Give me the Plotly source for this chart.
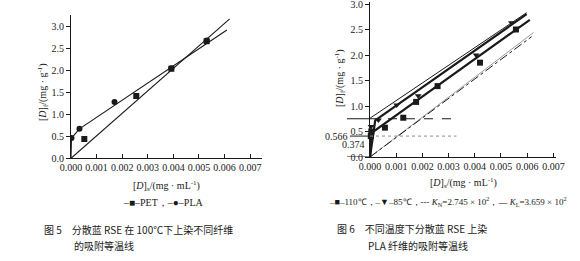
import plotly.graph_objects as go

# ---------------- data (left: Fig.5) ----------------
pet_x = [0.00052, 0.00255, 0.00392, 0.0053]
pet_y = [0.44, 1.42, 2.04, 2.66]
pla_x = [0.00002, 0.00033, 0.0017, 0.00392, 0.0053]
pla_y = [0.46, 0.67, 1.28, 2.05, 2.68]
pet_fit_x = [0.0, 0.0062]
pet_fit_y = [0.0, 3.17]
pla_fit_x = [0.0, 0.00002, 0.00033, 0.00609]
pla_fit_y = [0.0, 0.46, 0.67, 2.92]

# ---------------- data (right: Fig.6) ----------------
t110_x = [0.00003, 0.00005, 0.00057, 0.00127, 0.00176, 0.00258, 0.0042, 0.00557]
t110_y = [0.41, 0.50, 0.575, 0.77, 1.08, 1.39, 1.85, 2.50]
t85_x = [0.00004, 0.00032, 0.00102, 0.00184, 0.00405, 0.0054]
t85_y = [0.60, 0.725, 1.02, 1.20, 2.0, 2.63]
fit110_x = [0.0, 0.00005, 0.0061]
fit110_y = [0.0, 0.47, 2.69]
fit85_x = [0.0, 0.0002, 0.00598]
fit85_y = [0.0, 0.72, 2.80]
kl_thin_x = [0.0, 0.00598]
kl_thin_y = [0.76, 2.83]
gray_x = [0.0, 0.00624]
gray_y = [0.0, 2.44]
kn_x = [0.0, 0.00617]
kn_y = [0.0, 2.36]
hline_levels = [0.75, 0.41, 0.0]
hline_dash_end = 0.0033
side_labels = ["0.566", "0.374"]
side_label_y = [0.40, 0.24]

x_ticks = [0.000, 0.001, 0.002, 0.003, 0.004, 0.005, 0.006, 0.007]
y_ticks = [0.0, 0.5, 1.0, 1.5, 2.0, 2.5, 3.0]

SERIF = "Liberation Serif, Times New Roman, serif"
CJK = "Noto Sans CJK SC"
INK = "#1a1a1a"

fig = go.Figure()

# left chart
fig.add_trace(go.Scatter(x=pet_fit_x, y=pet_fit_y, mode="lines", line=dict(color=INK, width=1.1),
                         xaxis="x", yaxis="y"))
fig.add_trace(go.Scatter(x=pla_fit_x, y=pla_fit_y, mode="lines", line=dict(color=INK, width=1.1),
                         xaxis="x", yaxis="y"))
fig.add_trace(go.Scatter(x=pet_x, y=pet_y, mode="markers", marker=dict(symbol="square", size=6, color=INK),
                         xaxis="x", yaxis="y"))
fig.add_trace(go.Scatter(x=pla_x, y=pla_y, mode="markers", marker=dict(symbol="circle", size=6, color=INK),
                         xaxis="x", yaxis="y"))

# right chart
fig.add_trace(go.Scatter(x=gray_x, y=gray_y, mode="lines", line=dict(color="#9a9a9a", width=1),
                         xaxis="x2", yaxis="y2"))
fig.add_trace(go.Scatter(x=kn_x, y=kn_y, mode="lines", line=dict(color=INK, width=1, dash="dashdot"),
                         xaxis="x2", yaxis="y2"))
fig.add_trace(go.Scatter(x=kl_thin_x, y=kl_thin_y, mode="lines", line=dict(color=INK, width=1),
                         xaxis="x2", yaxis="y2"))
fig.add_trace(go.Scatter(x=fit110_x, y=fit110_y, mode="lines", line=dict(color=INK, width=2.2),
                         xaxis="x2", yaxis="y2"))
fig.add_trace(go.Scatter(x=fit85_x, y=fit85_y, mode="lines", line=dict(color=INK, width=2.2),
                         xaxis="x2", yaxis="y2"))
fig.add_trace(go.Scatter(x=t110_x, y=t110_y, mode="markers", marker=dict(symbol="square", size=6, color=INK),
                         xaxis="x2", yaxis="y2", cliponaxis=False))
fig.add_trace(go.Scatter(x=t85_x, y=t85_y, mode="markers", marker=dict(symbol="triangle-down", size=6, color=INK),
                         xaxis="x2", yaxis="y2", cliponaxis=False))

def px(x):
    return x / 580.0

def py(y):
    return 1 - y / 261.0

# reference lines on the right chart
x2_left_paper = px(370)
outside_left = [px(347), px(350), px(347)]
for lvl, xl in zip(hline_levels, outside_left):
    fig.add_shape(type="line", xref="paper", yref="y2", x0=xl, x1=x2_left_paper, y0=lvl, y1=lvl,
                  line=dict(color=INK, width=1))
fig.add_shape(type="line", xref="x2", yref="y2", x0=0, x1=hline_dash_end, y0=hline_levels[0], y1=hline_levels[0],
              line=dict(color=INK, width=1, dash="dash"))
fig.add_shape(type="line", xref="x2", yref="y2", x0=0, x1=hline_dash_end, y0=hline_levels[1], y1=hline_levels[1],
              line=dict(color="#8a8a8a", width=1, dash="dot"))

axis_common = dict(showline=True, linecolor=INK, linewidth=1.2, showgrid=False, zeroline=False,
                   ticks="outside", ticklen=4, tickcolor=INK, tickwidth=1, ticklabeloverflow="allow",
                   automargin=False,
                   tickfont=dict(family=SERIF, size=10, color=INK))

fig.update_layout(
    width=580, height=261, margin=dict(l=0, r=0, t=0, b=0, pad=0, autoexpand=False),
    paper_bgcolor="white", plot_bgcolor="white", showlegend=False,
    xaxis=dict(domain=[px(71), px(261.7)], range=[0, 0.00745], tickvals=x_ticks, tickformat=".3f",
               anchor="y", **{**axis_common, "ticks": "inside"}),
    yaxis=dict(domain=[py(158.3), py(15)], range=[0, 3.26], tickvals=y_ticks, tickformat=".1f",
               anchor="x", **axis_common),
    xaxis2=dict(domain=[px(370), px(556)], range=[0, 0.0071], tickvals=x_ticks, tickformat=".3f",
                anchor="y2", **{**axis_common, "ticks": "inside"}),
    yaxis2=dict(domain=[py(157), py(1.7)], range=[0, 3.045], tickvals=y_ticks, tickformat=".1f",
                anchor="x2", **axis_common),
)

def text(x, y, s, size=10, family=SERIF, angle=0, xanchor="center"):
    fig.add_annotation(x=px(x), y=py(y), xref="paper", yref="paper", text=s, showarrow=False,
                       xanchor=xanchor, yanchor="middle", textangle=angle,
                       font=dict(family=family, size=size, color=INK))

# axis titles
text(43, 92, "[<i>D</i>]<sub>f</sub>/(mg · g<sup>-1</sup>)", angle=-90)
text(166, 186, "[<i>D</i>]<sub>s</sub>/(mg · mL<sup>-1</sup>)")
text(340, 78, "[<i>D</i>]<sub>f</sub>/(mg · g<sup>-1</sup>)", angle=-90)
text(463, 183, "[<i>D</i>]<sub>s</sub>/(mg · mL<sup>-1</sup>)")

# legends
text(163, 202, "–■–PET，–●–PLA", size=10)
text(448, 201, "–■–110℃，–▼–85℃，--- <i>K</i><sub>N</sub>=2.745 × 10<sup>2</sup>，— <i>K</i><sub>L</sub>=3.659 × 10<sup>2</sup>", size=9)

# side labels on right chart
for lab, ly, xr in zip(side_labels, side_label_y, [350, 367]):
    fig.add_annotation(x=px(xr), y=ly, xref="paper", yref="y2", text=lab, showarrow=False,
                       xanchor="right", yanchor="middle", font=dict(family=SERIF, size=10, color=INK))

# captions
text(42, 229, "图 5　分散蓝 RSE 在 100℃下上染不同纤维", size=10, family=CJK, xanchor="left")
text(72, 245, "的吸附等温线", size=10, family=CJK, xanchor="left")
text(335, 228, "图 6　不同温度下分散蓝 RSE 上染", size=10, family=CJK, xanchor="left")
text(366, 245, "PLA 纤维的吸附等温线", size=10, family=CJK, xanchor="left")

fig.write_html("out.html")
